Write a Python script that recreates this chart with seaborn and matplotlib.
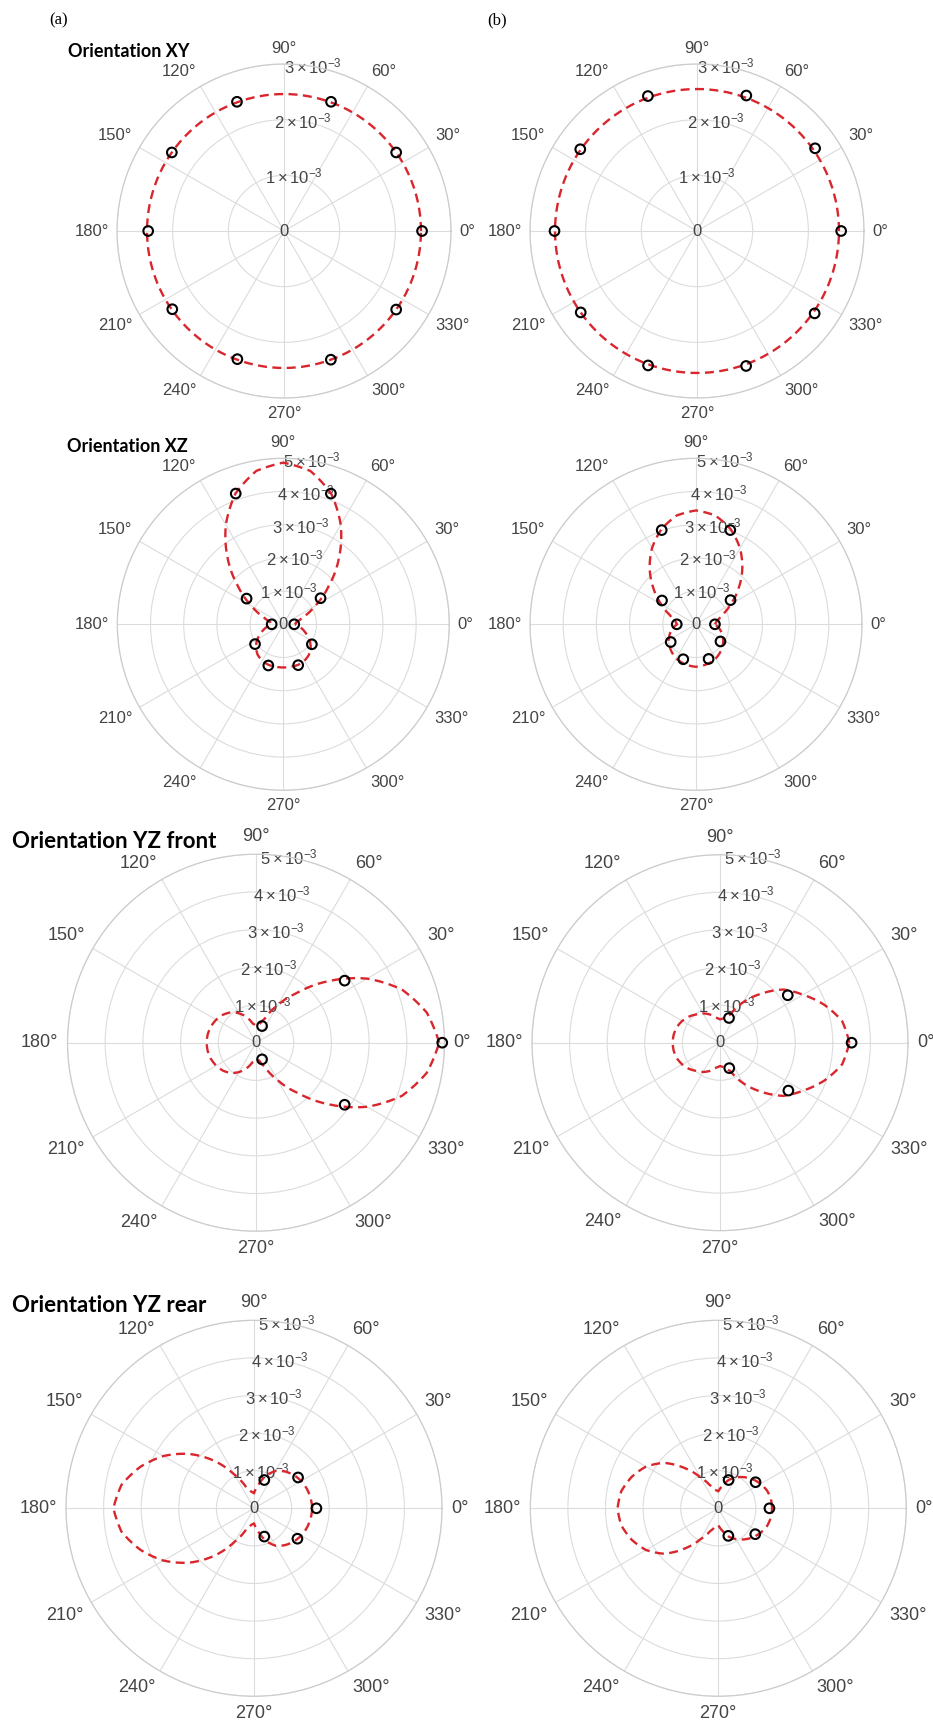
import numpy as np
import matplotlib
matplotlib.use("Agg")
import matplotlib.pyplot as plt
import seaborn as sns

sns.set_style("white")
plt.rcParams['font.family'] = ['Liberation Sans', 'DejaVu Sans']
plt.rcParams['mathtext.fontset'] = 'custom'
plt.rcParams['mathtext.rm'] = 'Liberation Sans'
plt.rcParams['mathtext.it'] = 'Liberation Sans:italic'
plt.rcParams['mathtext.bf'] = 'Liberation Sans:bold'

# ---------------- data (values in units of 1e-3) ----------------
theta_label_deg = [0, 30, 60, 90, 120, 150, 180, 210, 240, 270, 300, 330]
fit_deg = [0, 10, 20, 30, 40, 50, 60, 70, 80, 90, 100, 110, 120, 130, 140, 150, 160, 170,
           180, 190, 200, 210, 220, 230, 240, 250, 260, 270, 280, 290, 300, 310, 320, 330, 340, 350]
meas_deg_all = [0, 35, 70, 110, 145, 180, 215, 250, 290, 325]
meas_deg_yz = [0, 35, 70, 290, 325]

# Orientation XY
xy_a_fit = [2.46, 2.46, 2.46, 2.46, 2.46, 2.46, 2.46, 2.46, 2.46, 2.46, 2.46, 2.46,
            2.46, 2.46, 2.46, 2.46, 2.46, 2.46, 2.46, 2.46, 2.46, 2.46, 2.46, 2.46,
            2.46, 2.46, 2.46, 2.46, 2.46, 2.46, 2.46, 2.46, 2.46, 2.46, 2.46, 2.46]
xy_a_meas = [2.48, 2.46, 2.47, 2.47, 2.46, 2.44, 2.45, 2.45, 2.46, 2.46]
xy_b_fit = [2.55, 2.55, 2.55, 2.55, 2.55, 2.55, 2.55, 2.55, 2.55, 2.55, 2.55, 2.55,
            2.55, 2.55, 2.55, 2.55, 2.55, 2.55, 2.55, 2.55, 2.55, 2.55, 2.55, 2.55,
            2.55, 2.55, 2.55, 2.55, 2.55, 2.55, 2.55, 2.55, 2.55, 2.55, 2.55, 2.55]
xy_b_meas = [2.59, 2.59, 2.59, 2.58, 2.56, 2.56, 2.55, 2.57, 2.58, 2.58]

# Orientation XZ
xz_a_fit = [0.35, 0.40, 0.63, 1.10, 1.78, 2.61, 3.46, 4.20, 4.69, 4.87, 4.69, 4.20,
            3.46, 2.61, 1.78, 1.10, 0.63, 0.40, 0.35, 0.52, 0.70, 0.90, 1.08, 1.20,
            1.27, 1.30, 1.30, 1.30, 1.30, 1.30, 1.27, 1.20, 1.08, 0.90, 0.70, 0.52]
xz_a_meas = [0.33, 1.37, 4.19, 4.19, 1.35, 0.35, 1.04, 1.32, 1.31, 1.05]
xz_b_fit = [0.57, 0.64, 0.85, 1.21, 1.67, 2.17, 2.65, 3.05, 3.33, 3.43, 3.33, 3.05,
            2.65, 2.17, 1.67, 1.21, 0.85, 0.64, 0.57, 0.71, 0.84, 0.95, 1.04, 1.12,
            1.19, 1.23, 1.26, 1.28, 1.26, 1.23, 1.19, 1.12, 1.04, 0.95, 0.84, 0.71]
xz_b_meas = [0.57, 1.27, 3.02, 3.02, 1.25, 0.58, 0.93, 1.12, 1.11, 0.90]

# Orientation YZ front
yzf_a_fit = [4.86, 4.60, 4.12, 3.40, 2.55, 1.75, 1.15, 0.68, 0.48, 0.45, 0.52, 0.72,
             0.90, 1.05, 1.15, 1.22, 1.27, 1.30, 1.31, 1.30, 1.27, 1.22, 1.15, 1.05,
             0.90, 0.72, 0.52, 0.45, 0.48, 0.68, 1.15, 1.75, 2.55, 3.40, 4.12, 4.60]
yzf_a_meas = [4.94, 2.87, 0.47, 0.47, 2.87]
yzf_b_fit = [3.44, 3.30, 2.95, 2.55, 2.20, 1.70, 1.25, 0.80, 0.66, 0.62, 0.68, 0.80,
             0.90, 0.98, 1.08, 1.16, 1.22, 1.25, 1.26, 1.25, 1.22, 1.16, 1.08, 0.98,
             0.90, 0.80, 0.68, 0.62, 0.66, 0.80, 1.25, 1.70, 2.20, 2.55, 2.95, 3.30]
yzf_b_meas = [3.50, 2.20, 0.70, 0.72, 2.22]

# Orientation YZ rear
yzr_a_fit = [1.55, 1.53, 1.50, 1.45, 1.38, 1.28, 1.15, 0.92, 0.62, 0.40, 0.45, 0.58,
             1.02, 1.65, 2.25, 2.78, 3.22, 3.58, 3.74, 3.58, 3.22, 2.78, 2.25, 1.65,
             1.02, 0.58, 0.45, 0.40, 0.62, 0.92, 1.15, 1.28, 1.38, 1.45, 1.50, 1.53]
yzr_a_meas = [1.66, 1.43, 0.80, 0.80, 1.41]
yzr_b_fit = [1.43, 1.42, 1.38, 1.30, 1.20, 1.08, 0.95, 0.80, 0.60, 0.45, 0.50, 0.65,
             0.95, 1.40, 1.88, 2.22, 2.45, 2.62, 2.68, 2.62, 2.45, 2.22, 1.88, 1.40,
             0.95, 0.65, 0.50, 0.45, 0.60, 0.80, 0.95, 1.08, 1.20, 1.30, 1.38, 1.42]
yzr_b_meas = [1.36, 1.21, 0.80, 0.78, 1.20]

rticks_small = [0, 1, 2, 3]
rticks_big = [0, 1, 2, 3, 4, 5]

# ---------------- layout ----------------
W, H = 933, 1729
fig = plt.figure(figsize=(W / 100, H / 100), dpi=100)
fig.patch.set_facecolor('white')

RED = '#d8262c'
GRID = '#dcdcdc'
TXT = '#444444'

panels = [
    # cx, cy, R(px), rticks, fit, meas, meas angles, theta fontsize, label gap px
    (284.0, 231.0, 167.0, rticks_small, xy_a_fit, xy_a_meas, meas_deg_all, 12, 8),
    (697.0, 231.0, 167.0, rticks_small, xy_b_fit, xy_b_meas, meas_deg_all, 12, 8),
    (283.3, 624.3, 166.0, rticks_big, xz_a_fit, xz_a_meas, meas_deg_all, 12, 8),
    (696.0, 624.3, 166.0, rticks_big, xz_b_fit, xz_b_meas, meas_deg_all, 12, 8),
    (256.0, 1042.7, 188.5, rticks_big, yzf_a_fit, yzf_a_meas, meas_deg_yz, 13, 9),
    (720.0, 1042.7, 188.0, rticks_big, yzf_b_fit, yzf_b_meas, meas_deg_yz, 13, 9),
    (254.0, 1508.3, 188.0, rticks_big, yzr_a_fit, yzr_a_meas, meas_deg_yz, 13, 9),
    (718.3, 1508.3, 188.0, rticks_big, yzr_b_fit, yzr_b_meas, meas_deg_yz, 13, 9),
]


def rlabel(v):
    return '0' if v == 0 else r'$%d\times10^{-3}$' % v


def align_for(deg):
    c, s = np.cos(np.deg2rad(deg)), np.sin(np.deg2rad(deg))
    ha = 'left' if c > 0.01 else ('right' if c < -0.01 else 'center')
    va = 'bottom' if s > 0.01 else ('top' if s < -0.01 else 'center')
    return ha, va


for (cx, cy, R, rt, fit, meas, mdeg, tfs, gap) in panels:
    ax = fig.add_axes([(cx - R) / W, 1 - (cy + R) / H, 2 * R / W, 2 * R / H],
                      projection='polar')
    rmax = rt[-1] * 1e-3

    th = np.deg2rad(np.array(fit_deg + [360]))
    rr = np.array(fit + fit[:1]) * 1e-3
    sns.lineplot(x=th, y=rr, ax=ax, sort=False, estimator=None, color=RED,
                 linewidth=1.7, linestyle='--', zorder=3)
    ln = ax.lines[-1]
    ln.set_dashes([3.8, 2.3])
    # let the polar transform draw each segment as a curve in (theta, r) space
    ln.get_path()._interpolation_steps = 12

    sns.scatterplot(x=np.deg2rad(np.array(mdeg)), y=np.array(meas) * 1e-3, ax=ax,
                    marker='o', s=48, facecolor='none', edgecolor='black',
                    linewidth=1.5, zorder=4, clip_on=False)

    ax.set_ylim(0, rmax)
    ax.set_xlabel('')
    ax.set_ylabel('')
    ax.set_thetagrids(theta_label_deg, labels=[''] * len(theta_label_deg))
    ax.set_rgrids([v * 1e-3 for v in rt[1:]], labels=[''] * (len(rt) - 1), angle=80)
    ax.tick_params(length=0)
    ax.grid(True, color=GRID, linewidth=0.8, linestyle='-')
    ax.spines['polar'].set_color('#cccccc')
    ax.spines['polar'].set_linewidth(0.9)
    ax.set_facecolor('white')

    for d in theta_label_deg:
        ha, va = align_for(d)
        ax.text(np.deg2rad(d), rmax * (1 + gap / R), '%d°' % d, ha=ha, va=va,
                fontsize=tfs, color=TXT, clip_on=False, zorder=1)
    for v in rt:
        ax.text(np.deg2rad(80) if v else 0, v * 1e-3, rlabel(v), ha='center', va='center',
                fontsize=12, color=TXT, zorder=2, clip_on=False)

# titles and panel letters
fig.text(49 / W, 1 - 24 / H, '(a)', family='Liberation Serif', fontsize=12, ha='left',
         va='baseline', color='black')
fig.text(487 / W, 1 - 24 / H, '(b)', family='Liberation Serif', fontsize=12, ha='left',
         va='baseline', color='black')
titles = [('Orientation XY', 68, 57, 13), ('Orientation XZ', 67, 452, 13),
          ('Orientation YZ front', 12, 848, 16), ('Orientation YZ rear', 12, 1312, 16)]
for t, x, y, fs in titles:
    fig.text(x / W, 1 - y / H, t, fontweight='bold', fontsize=fs, ha='left',
             va='baseline', color='black', family=['Lato', 'Liberation Sans'])

fig.savefig('out.png', dpi=100, facecolor='white')
